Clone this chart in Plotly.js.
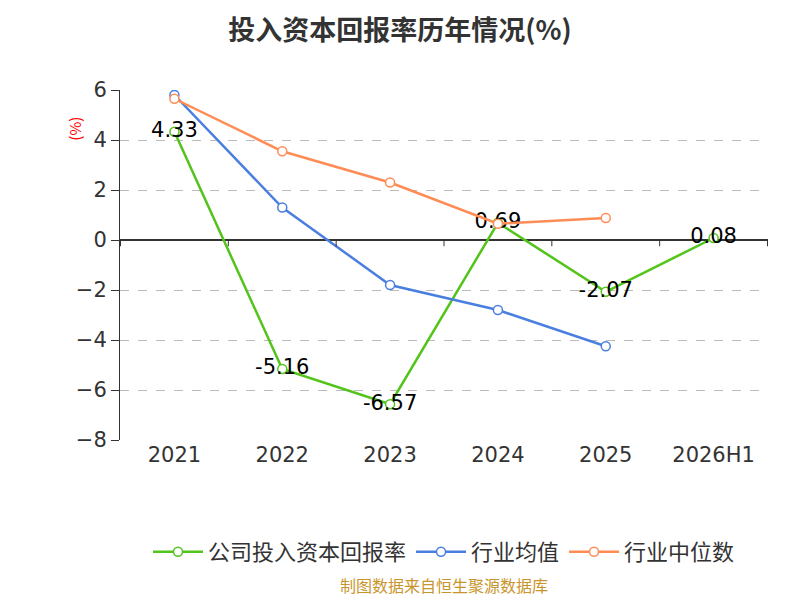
<!DOCTYPE html>
<html><head><meta charset="utf-8">
<script src="https://cdn.plot.ly/plotly-3.0.1.min.js"></script>
<style>body{margin:0}</style></head>
<body><div id="c" style="width:800px;height:600px"></div>
<script>
const categories=["2021","2022","2023","2024","2025","2026H1"];
const company=[4.33,-5.16,-6.57,0.69,-2.07,0.08];
const industryMean=[5.8,1.3,-1.8,-2.8,-4.25,null];
const industryMedian=[5.65,3.55,2.3,0.65,0.88,null];
const font="Noto Sans CJK SC, sans-serif";
const mk=c=>({size:9,color:"#fff",line:{color:c,width:1.5}});
const traces=[
{x:categories,y:company,name:"公司投入资本回报率",mode:"lines+markers+text",line:{color:"#52c41a",width:2.5},marker:mk("#52c41a"),
 text:company.map(v=>v.toFixed(2)),textposition:"middle center",textfont:{size:21,color:"#000",family:"DejaVu Sans, sans-serif"}},
{x:categories,y:industryMean,name:"行业均值",mode:"lines+markers",line:{color:"#4a7fe0",width:2.5},marker:mk("#4a7fe0")},
{x:categories,y:industryMedian,name:"行业中位数",mode:"lines+markers",line:{color:"#ff8c55",width:2.5},marker:mk("#ff8c55")}
];
Plotly.newPlot("c",traces,{
width:800,height:600,margin:{l:120,r:32,t:90,b:160},
paper_bgcolor:"#fff",plot_bgcolor:"#fff",font:{family:font},
title:{text:"<b>投入资本回报率历年情况(%)</b>",x:0.5,y:0.965,font:{size:27,color:"#333"}},
xaxis:{type:"category",tickfont:{size:21,color:"#333",family:"DejaVu Sans, sans-serif"},showgrid:false,zeroline:false,ticks:"",showline:false},
yaxis:{range:[-8,6],dtick:2,tickfont:{size:21,color:"#333",family:"DejaVu Sans, sans-serif"},gridcolor:"#bbb",griddash:"dash",zeroline:true,zerolinecolor:"#333",zerolinewidth:1.5,
 showline:true,linecolor:"#333",ticks:"outside",ticklen:8,tickcolor:"#333"},
legend:{orientation:"h",x:0.5,xanchor:"center",y:-0.26,itemwidth:50,font:{size:22,color:"#333"}},
annotations:[
{text:"(%)",xref:"paper",yref:"paper",x:-0.09,y:0.93,showarrow:false,textangle:-90,font:{size:15,color:"red"}},
{text:"制图数据来自恒生聚源数据库",xref:"paper",yref:"paper",x:0.5,y:-0.455,showarrow:false,font:{size:16,color:"#c8952c"}}
],
shapes:categories.map((c,i)=>({type:"line",xref:"x",yref:"y",x0:i-0.5,x1:i-0.5,y0:0,y1:-0.25,line:{color:"#333",width:1}}))
.concat([{type:"line",xref:"x",yref:"y",x0:5.5,x1:5.5,y0:0,y1:-0.25,line:{color:"#333",width:1}}])
},{displayModeBar:false});
</script></body></html>
